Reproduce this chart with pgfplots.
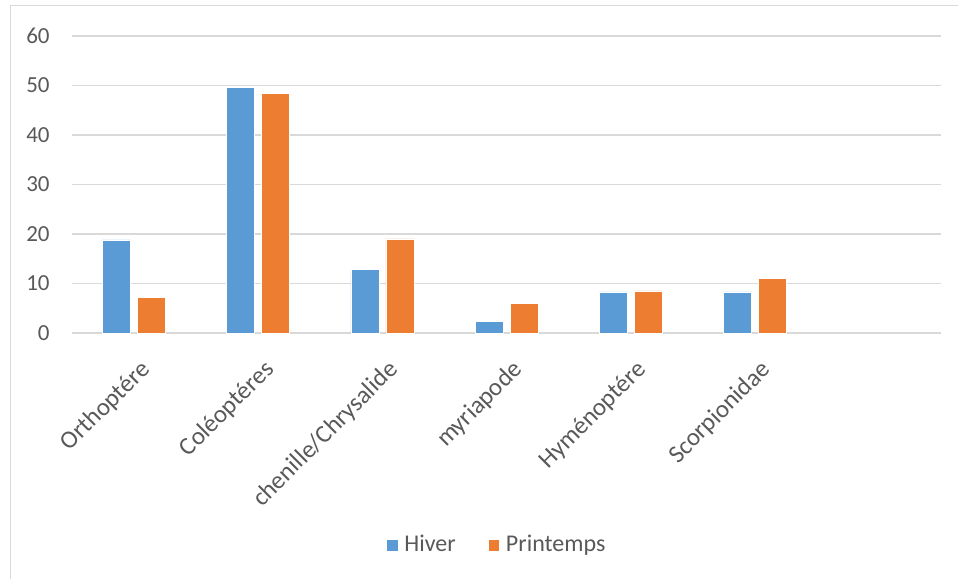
\documentclass[border=0pt]{standalone}
\usepackage{pgfplots}
\pgfplotsset{compat=1.18}
\usepackage{fontspec}
\setmainfont{Carlito}
\definecolor{cblue}{HTML}{5B9BD5}
\definecolor{corange}{HTML}{ED7D31}
\definecolor{cgrid}{HTML}{D9D9D9}
\definecolor{ctext}{HTML}{595959}
\begin{document}
\begin{tikzpicture}
\path[use as bounding box] (0pt,0pt) rectangle (479pt,289.5pt);
\draw[cgrid,line width=0.5pt] (5pt,0pt) -- (5pt,286.5pt) -- (479pt,286.5pt);
\begin{axis}[
  at={(36pt,123pt)}, anchor=south west,
  scale only axis, width=434.5pt, height=148.5pt,
  xmin=-0.5, xmax=6.5, ymin=0, ymax=60,
  ytick={0,10,...,60},
  xtick={0,1,2,3,4,5},
  xticklabels={Orthoptére,Coléoptéres,chenille/Chrysalide,myriapode,Hyménoptére,Scorpionidae},
  ybar=3.5pt, bar width=14pt,
  axis lines*=left,
  x axis line style={cgrid,line width=0.6pt},
  y axis line style={draw=none},
  ymajorgrids, grid style={cgrid,line width=0.6pt},
  major tick length=0pt,
  tick label style={text=ctext},
  yticklabel style={font=\fontsize{11.5}{13}\selectfont, inner sep=0pt, xshift=-11pt},
  xticklabel style={font=\fontsize{12.5}{14}\selectfont, rotate=45, anchor=north east, inner sep=0pt, xshift=-7.25pt, yshift=-10.4pt},
  /pgf/number format/assume math mode=true,
  legend style={at={(0.49,-0.714)}, anchor=center, draw=none, fill=none,
    legend columns=2, font=\fontsize{12}{14}\selectfont, text=ctext,
    /tikz/every even column/.append style={column sep=14pt},
    /tikz/every odd column/.append style={column sep=1pt}},
  legend image code/.code={\fill[#1] (0pt,-2.9pt) rectangle (5.8pt,2.9pt);},
]
\addplot[fill=cblue, draw=white, line width=0.3pt] coordinates {(0,18.8) (1,49.6) (2,12.8) (3,2.3) (4,8.3) (5,8.3)};
\addplot[fill=corange, draw=white, line width=0.3pt] coordinates {(0,7.2) (1,48.4) (2,19.0) (3,5.9) (4,8.5) (5,11.1)};
\legend{Hiver,Printemps}
\end{axis}
\end{tikzpicture}
\end{document}
